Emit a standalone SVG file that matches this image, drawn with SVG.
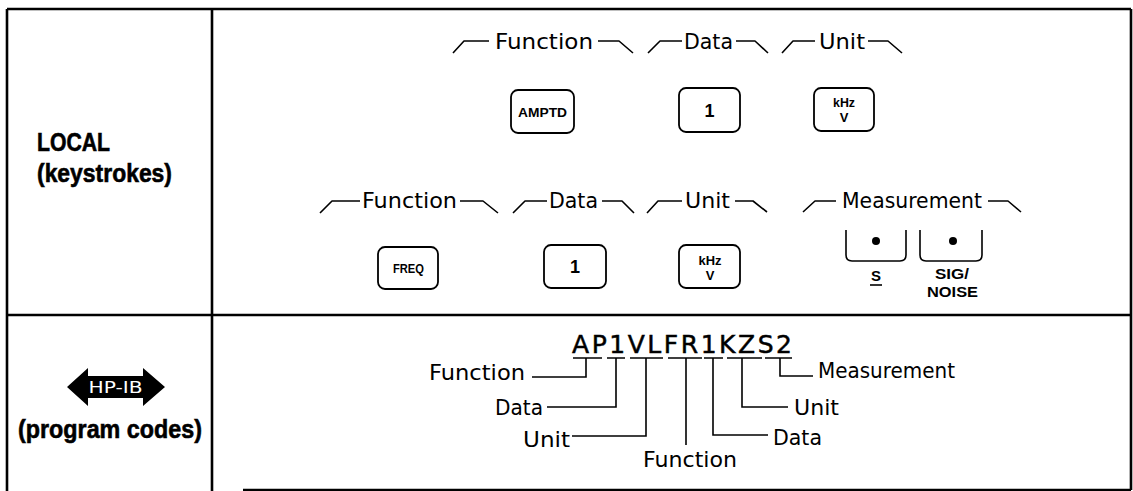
<svg xmlns="http://www.w3.org/2000/svg" width="1133" height="491" viewBox="0 0 1133 491">
<style>
.frame{stroke:#000;stroke-width:2.6;fill:none}
.br{stroke:#000;stroke-width:1.6;fill:none;stroke-linejoin:round}
.ld{stroke:#000;stroke-width:1.6;fill:none}
.key{stroke:#000;stroke-width:1.8;fill:#fff}
.lbl{font-family:"DejaVu Sans","Liberation Sans",sans-serif;font-size:21px;fill:#000}
.blbl{font-family:"DejaVu Sans","Liberation Sans",sans-serif;font-size:20.5px;fill:#000}
.hd{font-family:"Liberation Sans","DejaVu Sans",sans-serif;font-weight:bold;font-size:26px;fill:#000;stroke:#000;stroke-width:0.6}
.kt{font-family:"Liberation Sans","DejaVu Sans",sans-serif;font-weight:bold;fill:#000;text-anchor:middle}
.code{font-family:"DejaVu Sans","Liberation Sans",sans-serif;font-size:25px;fill:#000;stroke:#000;stroke-width:0.5}
</style>
<rect width="1133" height="491" fill="#fff"/>
<g id="table">
<line class="frame" x1="7" y1="9" x2="1131" y2="9"/>
<line class="frame" x1="7" y1="9" x2="7" y2="491"/>
<line class="frame" x1="212" y1="9" x2="212" y2="491"/>
<line class="frame" x1="1131" y1="9" x2="1131" y2="490"/>
<line class="frame" x1="7" y1="315" x2="1131" y2="315"/>
<line class="frame" x1="243" y1="490" x2="1131" y2="490"/>
</g>
<g id="local-label">
<text class="hd" x="37" y="151" textLength="73" lengthAdjust="spacingAndGlyphs">LOCAL</text>
<text class="hd" x="37" y="182" textLength="135" lengthAdjust="spacingAndGlyphs">(keystrokes)</text>
</g>
<g id="hpib-label">
<path d="M67,387 L88,368 V376 H143 V368 L165,387 L143,406 V398 H88 V406 Z" fill="#000"/>
<text x="115.5" y="393" font-family="DejaVu Sans, Liberation Sans, sans-serif" font-size="15" fill="#fff" text-anchor="middle" textLength="54" lengthAdjust="spacingAndGlyphs">HP-IB</text>
<text class="hd" x="18" y="438" textLength="184" lengthAdjust="spacingAndGlyphs">(program codes)</text>
</g>
<g id="brackets">
<path class="br" d="M453,53 L464,41 H489 M598,41 H619 L633,53"/>
<path class="br" d="M648,53 L660,41 H682 M736,41 H755 L768,53"/>
<path class="br" d="M782,53 L793,41 H815 M868,41 H888 L902,53"/>
<path class="br" d="M320,213 L332,201 H360 M460,201 H483 L498,213"/>
<path class="br" d="M513,213 L525,201 H547 M602,201 H622 L634,213"/>
<path class="br" d="M647,213 L658,201 H682 M735,201 H753 L767,212"/>
<path class="br" d="M803,212 L815,201 H836 M988,201 H1008 L1021,212"/>
</g>
<g id="group-labels">
<text class="lbl" x="495" y="49" textLength="98" lengthAdjust="spacingAndGlyphs">Function</text>
<text class="lbl" x="684" y="49" textLength="49" lengthAdjust="spacingAndGlyphs">Data</text>
<text class="lbl" x="819" y="49" textLength="46" lengthAdjust="spacingAndGlyphs">Unit</text>
<text class="lbl" x="362" y="208" textLength="95" lengthAdjust="spacingAndGlyphs">Function</text>
<text class="lbl" x="549" y="208" textLength="49" lengthAdjust="spacingAndGlyphs">Data</text>
<text class="lbl" x="685" y="208" textLength="45" lengthAdjust="spacingAndGlyphs">Unit</text>
<text class="lbl" x="842" y="208" textLength="140" lengthAdjust="spacingAndGlyphs">Measurement</text>
</g>
<g id="key-amptd">
<rect class="key" x="511" y="90" width="63" height="43" rx="7"/>
<text class="kt" x="542.5" y="117" font-size="13" textLength="49" lengthAdjust="spacingAndGlyphs">AMPTD</text>
</g>
<g id="key-1a">
<rect class="key" x="679" y="88" width="61" height="44" rx="7"/>
<text class="kt" x="709.5" y="117" font-size="18">1</text>
</g>
<g id="key-khz-a">
<rect class="key" x="814" y="88" width="60" height="43" rx="7"/>
<text class="kt" x="844" y="107" font-size="12" textLength="22" lengthAdjust="spacingAndGlyphs">kHz</text>
<text class="kt" x="844" y="122" font-size="13">V</text>
</g>
<g id="key-freq">
<rect class="key" x="378" y="247" width="60" height="42" rx="7"/>
<text class="kt" x="408.5" y="273" font-size="13" textLength="31" lengthAdjust="spacingAndGlyphs">FREQ</text>
</g>
<g id="key-1b">
<rect class="key" x="544" y="245" width="62" height="43" rx="7"/>
<text class="kt" x="575" y="273" font-size="18">1</text>
</g>
<g id="key-khz-b">
<rect class="key" x="679" y="245" width="61" height="43" rx="7"/>
<text class="kt" x="710" y="265" font-size="12" textLength="23" lengthAdjust="spacingAndGlyphs">kHz</text>
<text class="kt" x="710" y="280" font-size="13">V</text>
</g>
<g id="key-s">
<path class="br" stroke-width="1.8" d="M846,230 V255 Q846,261 852,261 H900 Q906,261 906,255 V230"/>
<circle cx="876" cy="241" r="4" fill="#000"/>
<text class="kt" x="876" y="281" font-size="15">S</text>
<line class="ld" x1="870" y1="285" x2="882" y2="285"/>
</g>
<g id="key-signoise">
<path class="br" stroke-width="1.8" d="M920,230 V255 Q920,261 926,261 H976 Q982,261 982,255 V230"/>
<circle cx="953" cy="241" r="4" fill="#000"/>
<text class="kt" x="952" y="279" font-size="14" textLength="34" lengthAdjust="spacingAndGlyphs">SIG/</text>
<text class="kt" x="952.5" y="297" font-size="14" textLength="51" lengthAdjust="spacingAndGlyphs">NOISE</text>
</g>
<g id="program-code">
<text class="code" x="572" y="353" textLength="220" lengthAdjust="spacing">AP1VLFR1KZS2</text>
</g>
<g id="connectors">
<path class="ld" d="M573,358 H602 M607,358 H625 M630,358 H663 M668,358 H702 M704,358 H723 M727,358 H762 M765,358 H792"/>
<path class="ld" d="M586,358 V377 H532"/>
<path class="ld" d="M616,358 V407 H547"/>
<path class="ld" d="M646,358 V436 H572"/>
<path class="ld" d="M686,358 V445"/>
<path class="ld" d="M713,358 V435 H768"/>
<path class="ld" d="M742,358 V407 H788"/>
<path class="ld" d="M780,358 V376 H813"/>
</g>
<g id="code-labels">
<text class="blbl" x="429" y="380" textLength="96" lengthAdjust="spacingAndGlyphs">Function</text>
<text class="blbl" x="495" y="415" textLength="48" lengthAdjust="spacingAndGlyphs">Data</text>
<text class="blbl" x="523" y="447" textLength="47" lengthAdjust="spacingAndGlyphs">Unit</text>
<text class="blbl" x="643" y="467" textLength="94" lengthAdjust="spacingAndGlyphs">Function</text>
<text class="blbl" x="773" y="445" textLength="49" lengthAdjust="spacingAndGlyphs">Data</text>
<text class="blbl" x="794" y="415" textLength="45" lengthAdjust="spacingAndGlyphs">Unit</text>
<text class="blbl" x="818" y="378" textLength="137" lengthAdjust="spacingAndGlyphs">Measurement</text>
</g>
</svg>
